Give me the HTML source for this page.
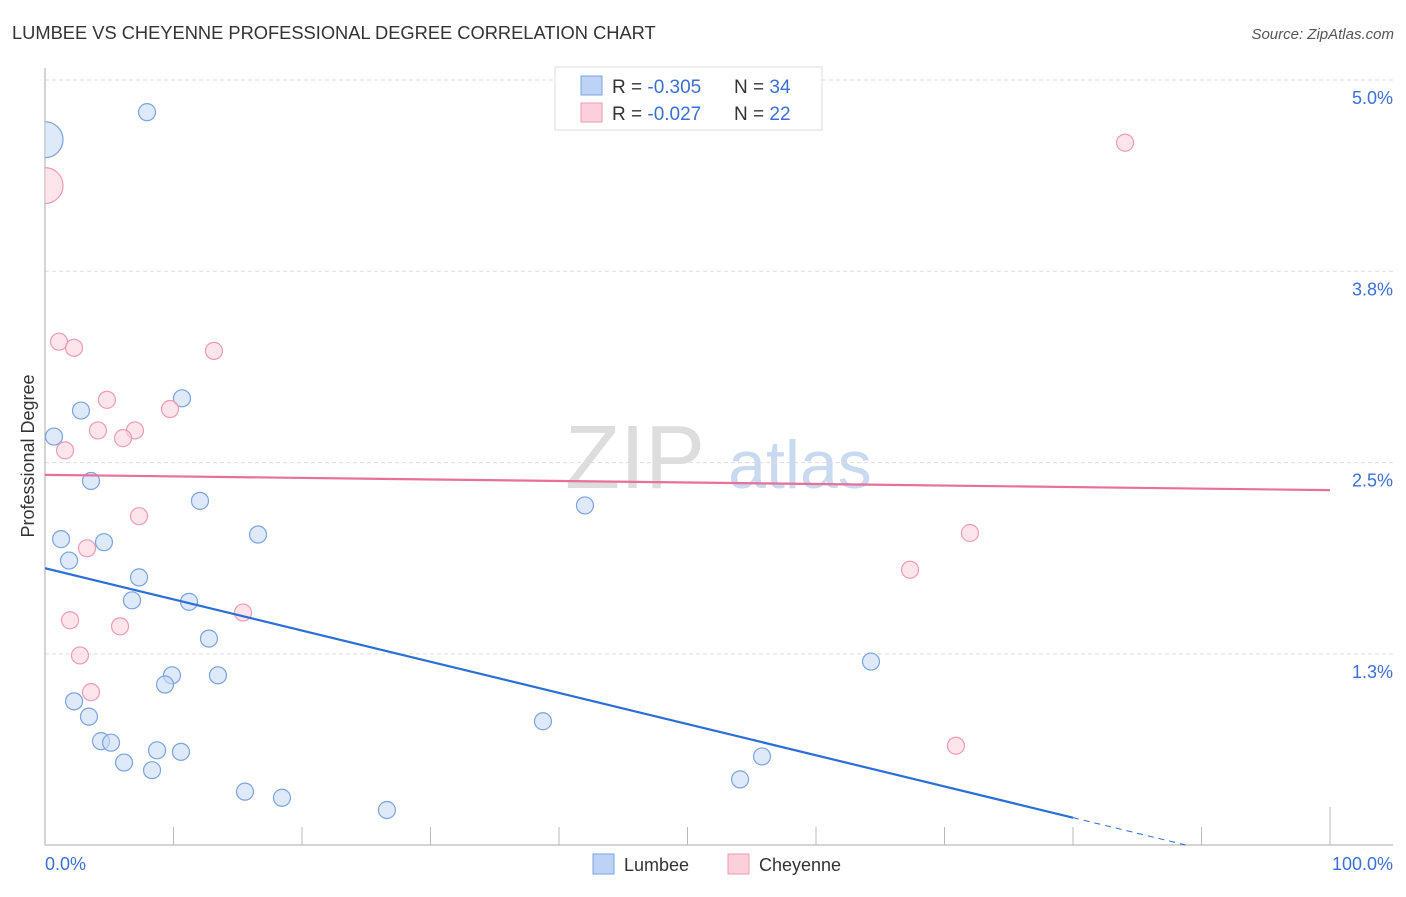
<!DOCTYPE html>
<html><head><meta charset="utf-8"><style>
body{margin:0;background:#fff;font-family:"Liberation Sans",sans-serif}
svg text{font-family:"Liberation Sans",sans-serif}
</style></head><body>
<svg id="chart" width="1406" height="892">
<defs><clipPath id="plotclip"><rect x="45" y="60" width="1360" height="790"/></clipPath></defs>
<text x="12" y="39" font-size="18.3" fill="#333">LUMBEE VS CHEYENNE PROFESSIONAL DEGREE CORRELATION CHART</text>
<text x="1394" y="39" font-size="15" fill="#555" font-style="italic" text-anchor="end">Source: ZipAtlas.com</text>
<g><text x="635" y="488" font-size="90" fill="#ddd" font-family="Liberation Serif" text-anchor="middle">ZIP</text><text x="800" y="488" font-size="68" fill="#c9d9f0" text-anchor="middle">atlas</text></g>
<g id="grid"></g><g id="axes"></g><g id="marks" clip-path="url(#plotclip)"></g>
<text transform="translate(34,456) rotate(-90)" font-size="18" fill="#333" text-anchor="middle">Professional Degree</text>
<text x="45" y="870" font-size="18" fill="#3b6fd6">0.0%</text>
<text x="1393" y="870" font-size="18" fill="#3b6fd6" text-anchor="end">100.0%</text>
<g>
<rect x="555" y="67" width="267" height="63" fill="#fff" stroke="#ddd"/>
<rect x="581" y="76" width="21" height="19" fill="#bcd3f5" stroke="#7aa3e0"/>
<rect x="581" y="103" width="21" height="19" fill="#fbd0dc" stroke="#ef9ab2"/>
<text x="612" y="93" font-size="19" fill="#333">R = <tspan fill="#3b6fd6">-0.305</tspan><tspan x="734">N = </tspan><tspan fill="#3b6fd6">34</tspan></text>
<text x="612" y="120" font-size="19" fill="#333">R = <tspan fill="#3b6fd6">-0.027</tspan><tspan x="734">N = </tspan><tspan fill="#3b6fd6">22</tspan></text>
</g>
<g>
<rect x="593" y="854" width="21" height="20" fill="#bcd3f5" stroke="#7aa3e0"/><text x="624" y="871" font-size="18" fill="#333">Lumbee</text>
<rect x="728" y="854" width="21" height="20" fill="#fbd0dc" stroke="#ef9ab2"/><text x="759" y="871" font-size="18" fill="#333">Cheyenne</text>
</g>
</svg>
<script>
const yTicks=[1.25,2.5,3.75,5.0];
const yTickLabels=["1.3%","2.5%","3.8%","5.0%"];
const lumbeeX=[7.94,0,2.80,10.66,0.70,3.58,12.06,42.02,16.58,1.25,4.59,1.87,7.32,6.77,11.21,12.76,64.28,9.88,13.46,9.34,2.26,3.42,38.75,4.36,5.14,8.72,10.58,55.80,6.15,8.33,54.09,15.56,18.44,26.61];
const lumbeeY=[4.79,4.61,2.84,2.92,2.67,2.38,2.25,2.22,2.03,2.00,1.98,1.86,1.75,1.60,1.59,1.35,1.20,1.11,1.11,1.05,0.94,0.84,0.81,0.68,0.67,0.62,0.61,0.58,0.54,0.49,0.43,0.35,0.31,0.23];
const cheyX=[0,84.05,1.09,2.26,13.15,4.82,9.73,4.12,7.00,6.07,1.56,7.32,71.98,3.27,67.32,15.41,1.95,5.84,2.72,3.58,70.89];
const cheyY=[4.31,4.59,3.29,3.25,3.23,2.91,2.85,2.71,2.71,2.66,2.58,2.15,2.04,1.94,1.80,1.52,1.47,1.43,1.24,1.00,0.65];
const lumbeeTrend=[1.81,0.18];   // values at x=0 and x=80
const cheyTrend=[2.42,2.32];     // values at x=0 and x=100
const NS="http://www.w3.org/2000/svg";
const xs=v=>45+v*12.85, ys=v=>80+(5-v)*153.04;
function mk(t,a,p){const e=document.createElementNS(NS,t);for(const k in a)e.setAttribute(k,a[k]);document.getElementById(p).appendChild(e);return e;}
yTicks.forEach((t,i)=>{
 const l=mk('line',{x1:45,x2:1393,y1:ys(t),y2:ys(t),stroke:'#ddd','stroke-dasharray':'4,3'},'grid');
 
 
 const tx=mk('text',{x:1393,y:ys(t)+24,'font-size':18,fill:'#3b6fd6','text-anchor':'end'},'grid');
 tx.textContent=yTickLabels[i];
 
 
});
const ax=mk('line',{x1:45,x2:45,y1:68,y2:845,stroke:'#aaa'},'axes');


const bx=mk('line',{x1:45,x2:1393,y1:845,y2:845,stroke:'#aaa'},'axes');


for(let i=1;i<=10;i++){
 const t=mk('line',{x1:xs(i*10),x2:xs(i*10),y1:i==10?807:827,y2:845,stroke:'#bbb'},'axes');
 
 
}
function pts(X,Y,fill,stroke,name,bigIdx){
 X.forEach((x,i)=>{
  const c=mk('circle',{cx:xs(x),cy:ys(Y[i]),r:i===bigIdx?18:8.5,fill:fill,stroke:stroke,'stroke-width':1.2,'fill-opacity':0.6},'marks');
  
  
 });
}
pts(lumbeeX,lumbeeY,'#c8dbf7','#7aa3e0','lumbee-point',1);
pts(cheyX,cheyY,'#fbd3de','#ef9ab2','cheyenne-point',0);
const slope=(lumbeeTrend[1]-lumbeeTrend[0])/80;
const l1=mk('line',{x1:xs(0),y1:ys(lumbeeTrend[0]),x2:xs(80),y2:ys(lumbeeTrend[1]),stroke:'#2a6fd6','stroke-width':2.2},'marks');


const xe=80+(0-lumbeeTrend[1])/slope;
const l2=mk('line',{x1:xs(80),y1:ys(lumbeeTrend[1]),x2:xs(xe),y2:ys(0),stroke:'#2a6fd6','stroke-width':1,'stroke-dasharray':'6,5'},'marks');


const l3=mk('line',{x1:xs(0),y1:ys(cheyTrend[0]),x2:xs(100),y2:ys(cheyTrend[1]),stroke:'#e8709a','stroke-width':2.2},'marks');


</script>
</body></html>
